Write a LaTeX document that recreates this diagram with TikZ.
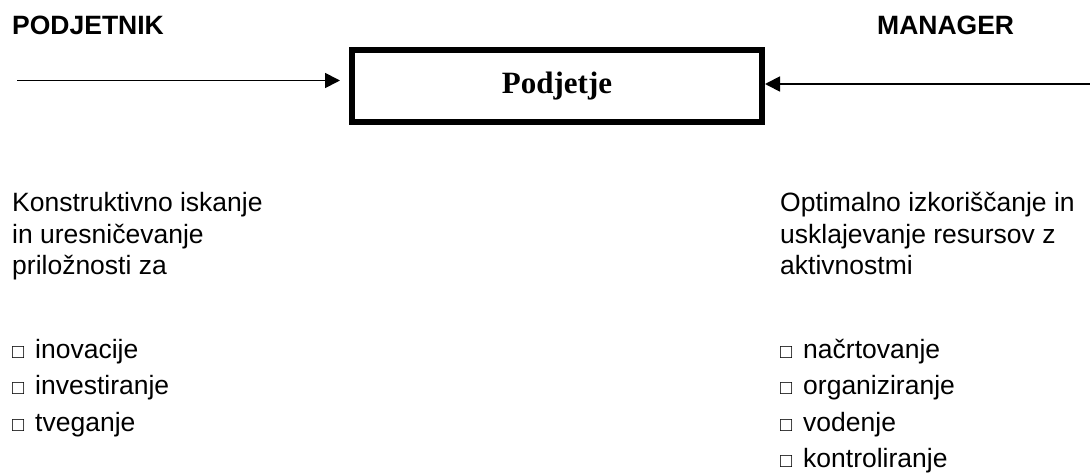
\documentclass[tikz,border=0pt]{standalone}
\usepackage{fontspec}
\setmainfont{Liberation Sans}
\newfontfamily\serifbold{Liberation Serif}
\usetikzlibrary{arrows.meta}
% small hollow square used as the list marker
\newcommand{\boxmark}{\makebox[23pt][l]{\fontsize{20}{20}\selectfont □}}
\begin{document}
\begin{tikzpicture}[x=1pt,y=-1pt,
  heading/.style={anchor=base west,inner sep=0pt,font=\fontsize{26.5}{31}\selectfont\bfseries},
  line/.style={anchor=base west,inner sep=0pt,font=\fontsize{26.5}{31}\selectfont},
  firm/.style={draw,line width=6pt,minimum width=410pt,minimum height=72pt,inner sep=0pt,outer sep=0pt,
    font=\serifbold\fontsize{31}{36}\selectfont\bfseries},
  link/.style={line width=1.8pt,-{Triangle[length=15pt,width=15pt]}}
]
\useasboundingbox (0,0) rectangle (1090,473);

\node[heading] (pod) at (12,35) {PODJETNIK};
\node[heading] (man) at (877,35) {MANAGER};

\node[firm] (firm) at (557,86) {\raisebox{-2pt}{Podjetje}};

\coordinate (lstart) at (17,80.5);
\coordinate (rstart) at (1092,84);
\draw[link,shorten >=12pt] (lstart) -- (lstart -| firm.west);
\draw[link,shorten >=3pt] (rstart) -- (rstart -| firm.east);

% entrepreneur side
\node[line] (l1) at (12,212) {Konstruktivno iskanje};
\node[line] (l2) at (12,243.5) {in uresničevanje};
\node[line] (l3) at (12,275) {priložnosti za};
\node[line] (la) at (12,358) {\boxmark inovacije};
\node[line] (lb) at (12,394.5) {\boxmark investiranje};
\node[line] (lc) at (12,431) {\boxmark tveganje};

% manager side
\node[line] (r1) at (780,212) {Optimalno izkoriščanje in};
\node[line] (r2) at (780,243.5) {usklajevanje resursov z};
\node[line] (r3) at (780,275) {aktivnostmi};
\node[line] (ra) at (780,358) {\boxmark načrtovanje};
\node[line] (rb) at (780,394.5) {\boxmark organiziranje};
\node[line] (rc) at (780,431) {\boxmark vodenje};
\node[line] (rd) at (780,467.5) {\boxmark kontroliranje};
\end{tikzpicture}
\end{document}
